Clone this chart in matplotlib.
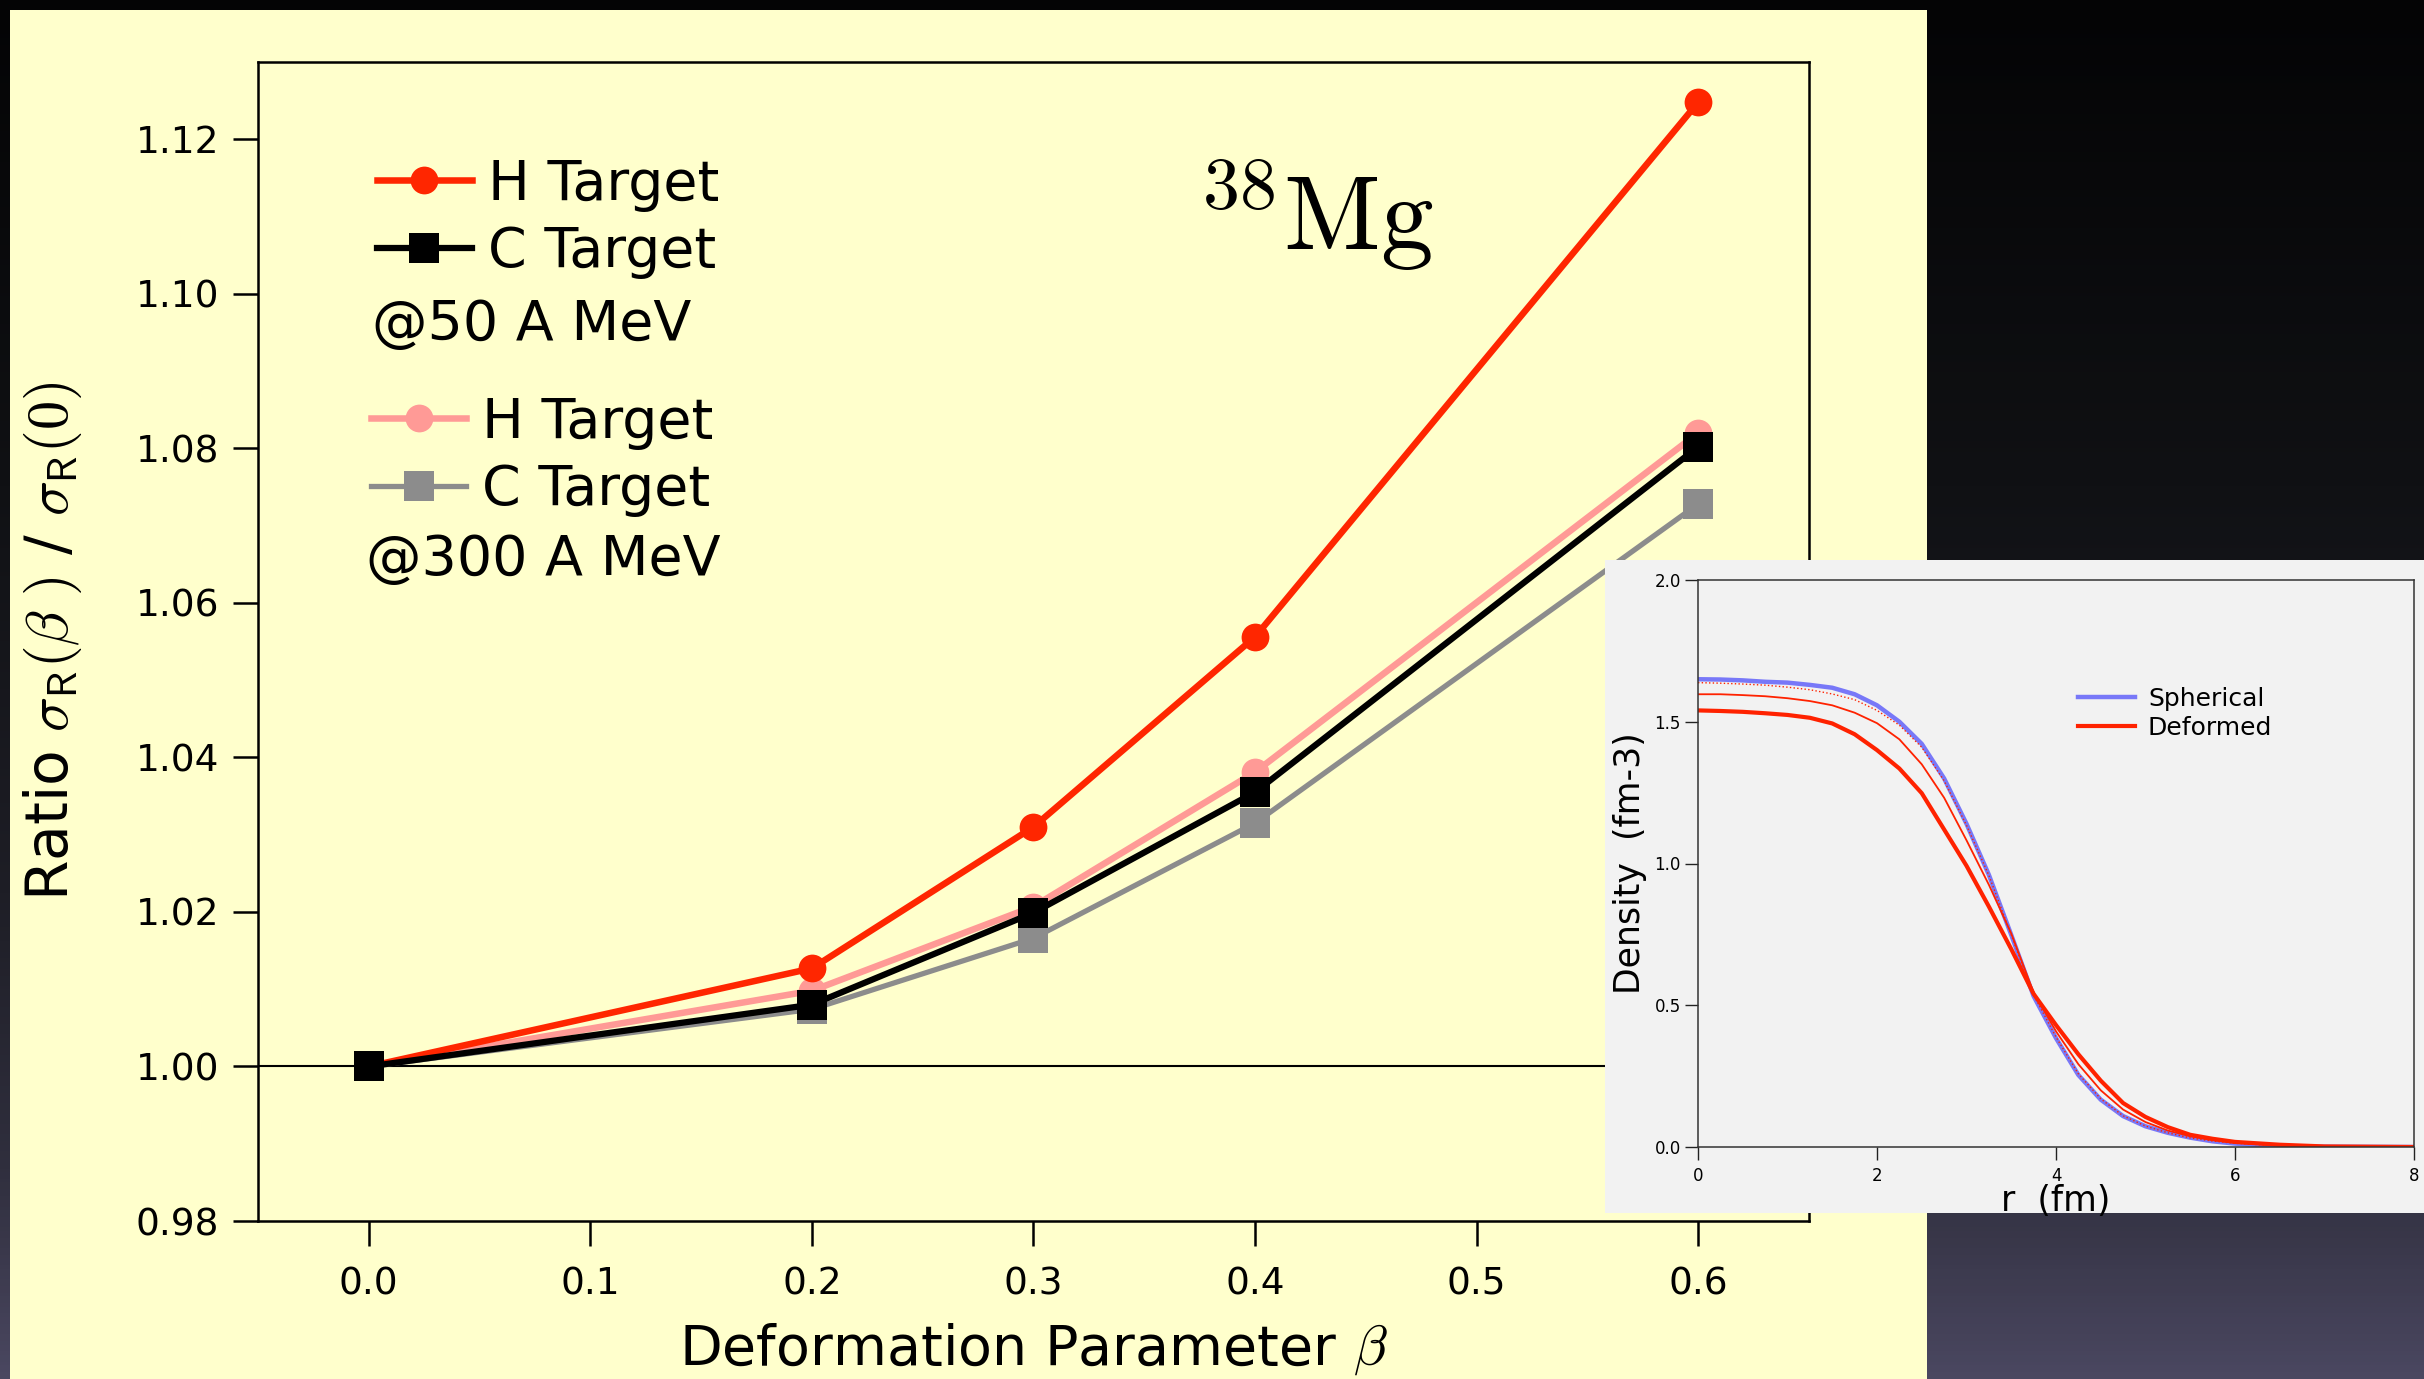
import numpy as np
import matplotlib
matplotlib.use("Agg")
import matplotlib.pyplot as plt
from matplotlib.colors import LinearSegmentedColormap
from matplotlib.lines import Line2D

plt.rcParams['font.family'] = ['DejaVu Sans']
plt.rcParams['mathtext.fontset'] = 'cm'

# --- main chart: ratio of reaction cross sections vs deformation ---
beta = [0.0, 0.2, 0.3, 0.4, 0.6]
h_50 = [1.000, 1.0127, 1.0310, 1.0556, 1.1248]
c_50 = [1.000, 1.0080, 1.0199, 1.0355, 1.0802]
h_300 = [1.000, 1.0098, 1.0207, 1.0381, 1.0820]
c_300 = [1.000, 1.0074, 1.0166, 1.0315, 1.0728]

x_ticks = [0.0, 0.1, 0.2, 0.3, 0.4, 0.5, 0.6]
x_labels = ['0.0', '0.1', '0.2', '0.3', '0.4', '0.5', '0.6']
y_ticks = [0.98, 1.00, 1.02, 1.04, 1.06, 1.08, 1.10, 1.12]
y_labels = ['0.98', '1.00', '1.02', '1.04', '1.06', '1.08', '1.10', '1.12']

# --- inset: density profiles ---
r_fm = [0.0, 0.25, 0.5, 0.75, 1.0, 1.25, 1.5, 1.75, 2.0, 2.25, 2.5, 2.75,
        3.0, 3.25, 3.5, 3.75, 4.0, 4.25, 4.5, 4.75, 5.0, 5.25, 5.5, 5.75,
        6.0, 6.5, 7.0, 8.0]
rho_spherical = [1.650, 1.649, 1.646, 1.641, 1.638, 1.630, 1.620, 1.597,
                 1.558, 1.500, 1.422, 1.300, 1.140, 0.960, 0.748, 0.532,
                 0.384, 0.254, 0.167, 0.109, 0.073, 0.050, 0.033, 0.020,
                 0.012, 0.003, 0.001, 0.0]
rho_deformed = [1.540, 1.538, 1.535, 1.530, 1.524, 1.514, 1.494, 1.456,
                1.400, 1.335, 1.248, 1.120, 0.992, 0.848, 0.698, 0.540,
                0.430, 0.327, 0.234, 0.155, 0.106, 0.070, 0.043, 0.029,
                0.018, 0.008, 0.002, 0.0]
rho_deformed_thin = [1.597, 1.597, 1.594, 1.590, 1.583, 1.573, 1.558, 1.532,
                     1.495, 1.438, 1.350, 1.232, 1.082, 0.925, 0.753, 0.545,
                     0.408, 0.292, 0.200, 0.132, 0.088, 0.058, 0.038, 0.024,
                     0.015, 0.005, 0.001, 0.0]
rho_deformed_dot = [1.638, 1.636, 1.633, 1.629, 1.622, 1.613, 1.598, 1.578,
                    1.540, 1.488, 1.410, 1.292, 1.135, 0.958, 0.748, 0.536,
                    0.388, 0.258, 0.170, 0.110, 0.074, 0.050, 0.032, 0.021,
                    0.013, 0.004, 0.001, 0.0]

W, H = 2424, 1379
fig = plt.figure(figsize=(W / 100, H / 100), dpi=100)

# slide background (dark gradient)
bg = fig.add_axes([0, 0, 1, 1], zorder=0)
cmap = LinearSegmentedColormap.from_list(
    'slide', [(0.0, '#040405'), (0.35, '#101114'), (0.65, '#1e1e26'),
              (0.85, '#302f3e'), (1.0, '#4a4760')])
grad = np.linspace(0, 1, 400)[:, None] * np.ones((1, 10))
bg.imshow(grad, aspect='auto', cmap=cmap, extent=[0, 1, 0, 1],
          origin='upper', vmin=0, vmax=1)
bg.set_axis_off()

# yellow panel
panel = fig.add_axes([10 / W, 0, 1917 / W, 1369 / H], zorder=1)
panel.set_facecolor('#FFFFCC')
panel.set_xticks([])
panel.set_yticks([])
for s in panel.spines.values():
    s.set_visible(False)

# main axes
ax = fig.add_axes([258 / W, (H - 1221) / H, 1551 / W, 1159 / H], zorder=2)
ax.set_facecolor('none')

ax.axhline(1.0, color='black', lw=1.5, zorder=2)
ax.plot(beta, c_300, color='#8C8C8C', lw=3.8, marker='s', ms=21, mew=0, zorder=3)
ax.plot(beta, h_300, color='#FF9A96', lw=4.7, marker='o', ms=20, mew=0, zorder=4)
ax.plot(beta, h_50, color='#FF2600', lw=4.7, marker='o', ms=20, mew=0, zorder=5)
ax.plot(beta, c_50, color='black', lw=4.5, marker='s', ms=21, mew=0, zorder=6)

ax.set_xlim(-0.05, 0.65)
ax.set_ylim(0.98, 1.13)
ax.set_xticks(x_ticks)
ax.set_xticklabels(x_labels)
ax.set_yticks(y_ticks)
ax.set_yticklabels(y_labels)
ax.tick_params(direction='out', length=18, width=1.8, labelsize=27, color='black')
ax.tick_params(axis='x', pad=15)
ax.tick_params(axis='y', pad=10)
for s in ax.spines.values():
    s.set_linewidth(1.8)

ax.set_xlabel(r'Deformation Parameter $\beta$', fontsize=40)
ax.xaxis.set_label_coords(0.5, -0.087)
ax.set_ylabel(r'Ratio $\sigma_{\mathsf{R}}(\beta\ )$ / $\sigma_{\mathsf{R}}(0)$', fontsize=42)
ax.yaxis.set_label_coords(-0.112, 0.5)

ax.text(0.606, 0.8387, r'$^{38}\mathrm{Mg}$', transform=ax.transAxes,
        fontsize=76, ha='left', va='baseline')

h1 = Line2D([], [], color='#FF2600', lw=4.7, marker='o', ms=20, mew=0)
h2 = Line2D([], [], color='black', lw=4.5, marker='s', ms=21, mew=0)
h3 = Line2D([], [], color='#FF9A96', lw=4.7, marker='o', ms=20, mew=0)
h4 = Line2D([], [], color='#8C8C8C', lw=3.8, marker='s', ms=21, mew=0)
leg_kw = dict(loc='center left', frameon=False, fontsize=40, handlelength=1.71,
              handletextpad=0.29, labelspacing=0.24, borderpad=0, borderaxespad=0)
leg1 = ax.legend([h1, h2], ['H Target', 'C Target'], bbox_to_anchor=(0.0767, 0.865), **leg_kw)
ax.add_artist(leg1)
ax.legend([h3, h4], ['H Target', 'C Target'], bbox_to_anchor=(0.0729, 0.6596), **leg_kw)
ax.text(0.0735, 0.7731, '@50 A MeV', transform=ax.transAxes, fontsize=40,
        ha='left', va='center')
ax.text(0.0696, 0.5703, '@300 A MeV', transform=ax.transAxes, fontsize=40,
        ha='left', va='center')

# inset panel and axes
ip = fig.add_axes([1605 / W, (H - 1213) / H, 819 / W, 653 / H], zorder=3)
ip.set_facecolor('#F2F2F2')
ip.set_xticks([])
ip.set_yticks([])
for s in ip.spines.values():
    s.set_visible(False)

ia = fig.add_axes([1698 / W, (H - 1147) / H, 716 / W, 567 / H], zorder=4)
ia.set_facecolor('none')
ia.plot(r_fm, rho_spherical, color='#7878F8', lw=3.2)
ia.plot(r_fm, rho_deformed_dot, color='#FF2200', lw=1.0, ls=':')
ia.plot(r_fm, rho_deformed_thin, color='#FF2200', lw=1.3)
ia.plot(r_fm, rho_deformed, color='#FF2200', lw=3.0)
ia.set_xlim(0, 8)
ia.set_ylim(0, 2.0)
ia.set_xticks([0, 2, 4, 6, 8])
ia.set_xticklabels(['0', '2', '4', '6', '8'])
ia.set_yticks([0.0, 0.5, 1.0, 1.5, 2.0])
ia.set_yticklabels(['0.0', '0.5', '1.0', '1.5', '2.0'])
ia.tick_params(direction='out', length=9.5, width=1.0, labelsize=12, color='#222222')
ia.tick_params(axis='x', pad=5)
ia.tick_params(axis='y', pad=3)
for s in ia.spines.values():
    s.set_linewidth(1.1)
    s.set_color('#333333')
ia.set_xlabel('r  (fm)', fontsize=25)
ia.xaxis.set_label_coords(0.5, -0.066)
ia.set_ylabel('Density  (fm-3)', fontsize=25)
ia.yaxis.set_label_coords(-0.071, 0.5)

hs = Line2D([], [], color='#7878F8', lw=3.2)
hd = Line2D([], [], color='#FF2200', lw=3.0)
ia.legend([hs, hd], ['Spherical', 'Deformed'], loc='center left',
          bbox_to_anchor=(0.5307, 0.7654), frameon=False, fontsize=18,
          handlelength=2.3, handletextpad=0.5, labelspacing=0.2,
          borderpad=0, borderaxespad=0)

fig.savefig('out.png', dpi=100)
